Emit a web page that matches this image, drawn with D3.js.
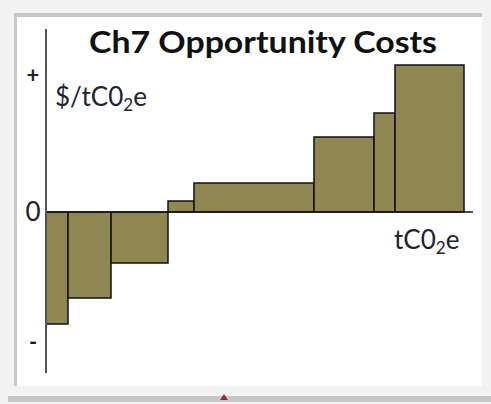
<!DOCTYPE html>
<html>
<head>
<meta charset="utf-8">
<script src="https://cdn.jsdelivr.net/npm/d3@7"></script>
<style>
  body { margin: 0; background: #f2f2f2; }
  svg { display: block; }
  text { font-family: Lato, "Open Sans", sans-serif; }
</style>
</head>
<body>
<svg id="chart" width="491" height="404"></svg>
<script>
// abatement options, sorted by cost (width = tCO2e abated, height = $/tCO2e)
let amounts = [22, 43, 57, 26, 120, 60, 21, 69];
let costs = [-112, -86, -51, 11, 29, 75, 99, 147];
let tickLabels = ["+", "0", "-"];
let tickValues = [137, 0, -130];

let svg = d3.select("#chart");

// window frame
svg.append("rect").attr("x", 14).attr("y", 13).attr("width", 468).attr("height", 373).attr("fill", "#c8c8c8");
svg.append("rect").attr("x", 17).attr("y", 17).attr("width", 465).attr("height", 369).attr("fill", "#fff");
svg.append("rect").attr("x", 8).attr("y", 396).attr("width", 483).attr("height", 6).attr("fill", "#c6c6c6");
svg.append("path").attr("d", "M220,400 L224,394 L228,400 Z").attr("fill", "#a8262a");

let starts = [];
amounts.reduce(function(acc, a) { starts.push(acc); return acc + a; }, 0);
let total = d3.sum(amounts);

let x = d3.scaleLinear().domain([0, total]).range([46, 464]);
let y = d3.scaleLinear().domain([-161, 183]).range([373, 29]);

svg.selectAll(".bar")
  .data(costs).enter().append("rect")
  .attr("class", "bar")
  .attr("x", function(d, i) { return x(starts[i]); })
  .attr("width", function(d, i) { return x(starts[i] + amounts[i]) - x(starts[i]); })
  .attr("y", function(d) { return y(Math.max(0, d)); })
  .attr("height", function(d) { return Math.abs(y(d) - y(0)); })
  .attr("fill", "#8e8752")
  .attr("stroke", "#111")
  .attr("stroke-width", 1.5);

// axes
svg.append("line")
  .attr("x1", x(0)).attr("x2", x(total) + 9)
  .attr("y1", y(0)).attr("y2", y(0))
  .attr("stroke", "#111").attr("stroke-width", 1.5);

svg.append("line")
  .attr("x1", x(0)).attr("x2", x(0))
  .attr("y1", y(183)).attr("y2", y(-161))
  .attr("stroke", "#555").attr("stroke-width", 2);

svg.selectAll(".tick")
  .data(tickLabels).enter().append("text")
  .attr("class", "tick")
  .attr("x", 33)
  .attr("y", function(d, i) { return y(tickValues[i]); })
  .attr("dy", "0.35em")
  .attr("text-anchor", "middle")
  .attr("font-size", function(d) { return d === "0" ? 26 : 22; })
  .attr("font-weight", function(d) { return d === "0" ? "normal" : "bold"; })
  .attr("fill", "#222")
  .text(function(d) { return d; });

// title
svg.append("text")
  .attr("x", 263).attr("y", 53)
  .attr("text-anchor", "middle")
  .attr("font-size", 30).attr("font-weight", "bold")
  .attr("textLength", 348).attr("lengthAdjust", "spacingAndGlyphs")
  .attr("fill", "#111")
  .text("Ch7 Opportunity Costs");

function unitLabel(tx, ty, prefix) {
  let t = svg.append("text")
    .attr("x", tx).attr("y", ty)
    .attr("font-size", 26).attr("fill", "#1c2333");
  t.append("tspan").text(prefix + "tC0");
  t.append("tspan").attr("font-size", 17).attr("dy", 5).text("2");
  t.append("tspan").attr("dy", -5).text("e");
}
unitLabel(55, 106, "$/");
unitLabel(394, 249, "");
</script>
</body>
</html>
